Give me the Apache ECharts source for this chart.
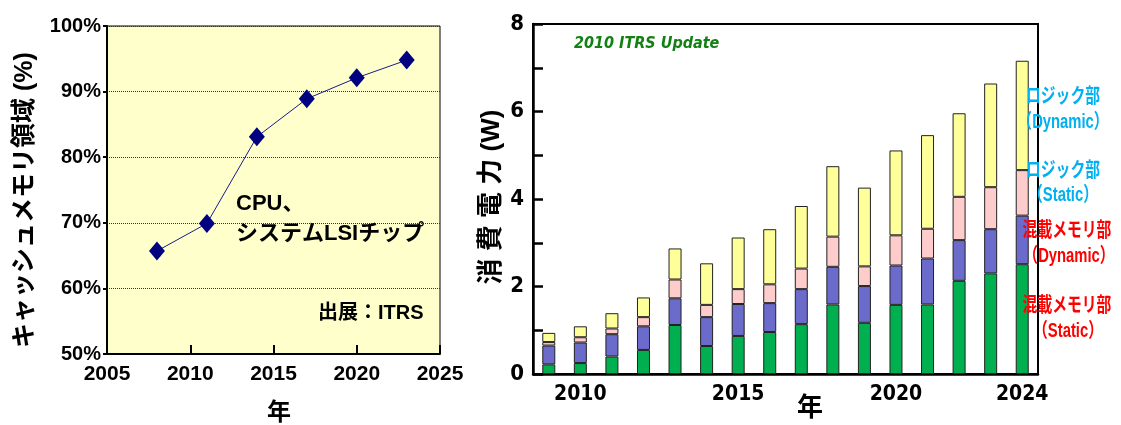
<!DOCTYPE html>
<html>
<head>
<meta charset="utf-8">
<script src="https://cdn.jsdelivr.net/npm/echarts@6/dist/echarts.min.js"></script>
<style>
  html, body { margin: 0; padding: 0; background: #fff; }
  #chart { width: 1121px; height: 425px; }
</style>
</head>
<body>
<div id="chart"></div>
<script>
// Cache-memory share of CPU / system-LSI die area (left)
const cacheYears = [2008, 2011, 2014, 2017, 2020, 2023];
const cacheShare = [65.7, 69.9, 83.1, 88.9, 92.1, 94.8];

// Power consumption breakdown, 2010 ITRS Update (right), watts per segment
const powerYears = ['2009', '2010', '2011', '2012', '2013', '2014', '2015', '2016',
                    '2017', '2018', '2019', '2020', '2021', '2022', '2023', '2024'];
const memStatic    = [0.22, 0.25, 0.40, 0.55, 1.12, 0.64, 0.87, 0.96, 1.14, 1.59, 1.17, 1.58, 1.59, 2.13, 2.30, 2.51];
const memDynamic   = [0.43, 0.47, 0.51, 0.54, 0.61, 0.66, 0.73, 0.66, 0.80, 0.86, 0.84, 0.90, 1.05, 0.93, 1.01, 1.11];
const logicStatic  = [0.08, 0.12, 0.13, 0.21, 0.43, 0.28, 0.34, 0.43, 0.47, 0.69, 0.45, 0.69, 0.68, 0.99, 0.96, 1.04];
const logicDynamic = [0.21, 0.25, 0.35, 0.45, 0.71, 0.95, 1.18, 1.26, 1.43, 1.61, 1.80, 1.94, 2.14, 1.91, 2.37, 2.50];
const powerLabelYears = ['2010', '2015', '2020', '2024'];

const SANS = "'Liberation Sans', 'Noto Sans CJK JP', sans-serif";
const NARROW = "'DejaVu Sans Condensed', 'Liberation Sans Narrow', 'Liberation Sans', 'Noto Sans CJK JP', sans-serif";
const CJK = "'Liberation Sans', 'Noto Sans CJK JP', sans-serif";
const CYAN = '#00B0F0';
const RED = '#FF0000';

const chart = echarts.init(document.getElementById('chart'), null, { renderer: 'canvas' });

function barSeries(name, data, color) {
  return {
    name, type: 'bar', stack: 'power', xAxisIndex: 1, yAxisIndex: 1,
    data, barWidth: 13,
    itemStyle: { color, borderColor: '#222', borderWidth: 1 },
    emphasis: { disabled: true }
  };
}

function legendText(text, cx, cy, color) {
  return {
    type: 'text', x: cx, y: cy, scaleX: 0.74, scaleY: 1, z: 100,
    style: {
      text, x: 0, y: 0, fill: color, align: 'center', verticalAlign: 'middle',
      font: `bold 20px ${CJK}`
    }
  };
}

chart.setOption({
  animation: false,
  grid: [
    { left: 107, top: 26, width: 333, height: 328, show: true,
      backgroundColor: '#FFFFCC', borderColor: '#000', borderWidth: 1 },
    { left: 533, top: 24, width: 505, height: 350, show: true,
      backgroundColor: 'transparent', borderColor: '#000', borderWidth: 2 }
  ],
  xAxis: [
    {
      gridIndex: 0, type: 'value', min: 2005, max: 2025, interval: 5,
      axisLine: { lineStyle: { color: '#000', width: 2 } },
      axisTick: { inside: true, length: 9, lineStyle: { color: '#000', width: 2 } },
      axisLabel: { color: '#000', fontFamily: SANS, fontWeight: 'bold', fontSize: 21, margin: 10,
                   formatter: v => String(v) },
      splitLine: { show: false }
    },
    {
      gridIndex: 1, type: 'category', data: powerYears,
      axisLine: { lineStyle: { color: '#000', width: 2.5 } },
      axisTick: { show: false },
      axisLabel: {
        color: '#000', fontFamily: NARROW, fontWeight: 'bold', fontSize: 21, margin: 10,
        interval: (idx, val) => powerLabelYears.includes(val)
      }
    }
  ],
  yAxis: [
    {
      gridIndex: 0, type: 'value', min: 50, max: 100, interval: 10,
      axisLine: { show: true, lineStyle: { color: '#000', width: 2 } },
      axisTick: { show: true, inside: false, length: 4, lineStyle: { color: '#000', width: 2 } },
      axisLabel: { color: '#000', fontFamily: SANS, fontWeight: 'bold', fontSize: 20, margin: 6,
                   formatter: '{value}%' },
      splitLine: { show: true, lineStyle: { color: '#333', type: 'dotted', width: 1 } }
    },
    {
      gridIndex: 1, type: 'value', min: 0, max: 8, interval: 1,
      axisLine: { show: true, lineStyle: { color: '#000', width: 2.5 } },
      axisTick: { show: true, inside: true, length: 10, lineStyle: { color: '#000', width: 2.5 } },
      axisLabel: { color: '#000', fontFamily: NARROW, fontWeight: 'bold', fontSize: 22, margin: 9,
                   formatter: v => (v % 2 === 0 ? String(v) : '') },
      splitLine: { show: false }
    }
  ],
  series: [
    {
      name: 'キャッシュメモリ領域', type: 'line', xAxisIndex: 0, yAxisIndex: 0,
      data: cacheYears.map((y, i) => [y, cacheShare[i]]),
      symbol: 'diamond', symbolSize: [16, 19],
      lineStyle: { color: '#1a1a8c', width: 1 },
      itemStyle: { color: '#000080' },
      emphasis: { disabled: true }
    },
    barSeries('混載メモリ部 (Static)', memStatic, '#00B050'),
    barSeries('混載メモリ部 (Dynamic)', memDynamic, '#6B6BCC'),
    barSeries('ロジック部 (Static)', logicStatic, '#FFCCCC'),
    barSeries('ロジック部 (Dynamic)', logicDynamic, '#FFFF99')
  ],
  graphic: [
    // left panel titles and notes
    { type: 'text', x: 25, y: 200, rotation: Math.PI / 2, z: 100,
      style: { text: 'キャッシュメモリ領域 (%)', x: 0, y: 0, align: 'center', verticalAlign: 'middle',
               fill: '#000', font: `bold 25px ${CJK}` } },
    { type: 'text', x: 279, y: 413, z: 100,
      style: { text: '年', align: 'center', verticalAlign: 'middle', fill: '#000', font: `bold 24px ${CJK}` } },
    { type: 'text', x: 236, y: 204, z: 100,
      style: { text: 'CPU、', align: 'left', verticalAlign: 'middle', fill: '#000', font: `bold 22px ${CJK}` } },
    { type: 'text', x: 236, y: 234, z: 100,
      style: { text: 'システムLSIチップ', align: 'left', verticalAlign: 'middle', fill: '#000', font: `bold 22px ${CJK}` } },
    { type: 'text', x: 318, y: 313, z: 100,
      style: { text: '出展：ITRS', align: 'left', verticalAlign: 'middle', fill: '#000', font: `bold 20px ${CJK}` } },
    // right panel titles and notes
    { type: 'text', x: 492, y: 197, rotation: Math.PI / 2, z: 100,
      style: { text: '消 費 電 力 (W)', x: 0, y: 0, align: 'center', verticalAlign: 'middle',
               fill: '#000', font: `bold 26px ${CJK}` } },
    { type: 'text', x: 810, y: 409, z: 100,
      style: { text: '年', align: 'center', verticalAlign: 'middle', fill: '#000', font: `bold 26px ${CJK}` } },
    { type: 'text', x: 574, y: 44, z: 100,
      style: { text: '2010 ITRS Update', align: 'left', verticalAlign: 'middle', fill: '#128012',
               font: `italic bold 16px ${NARROW}` } },
    legendText('ロジック部', 1063, 97, CYAN),
    legendText('（Dynamic）', 1063, 122, CYAN),
    legendText('ロジック部', 1063, 171, CYAN),
    legendText('（Static）', 1063, 195, CYAN),
    legendText('混載メモリ部', 1067, 231, RED),
    legendText('（Dynamic）', 1069, 256, RED),
    legendText('混載メモリ部', 1067, 306, RED),
    legendText('（Static）', 1068, 331, RED)
  ]
});
</script>
</body>
</html>
